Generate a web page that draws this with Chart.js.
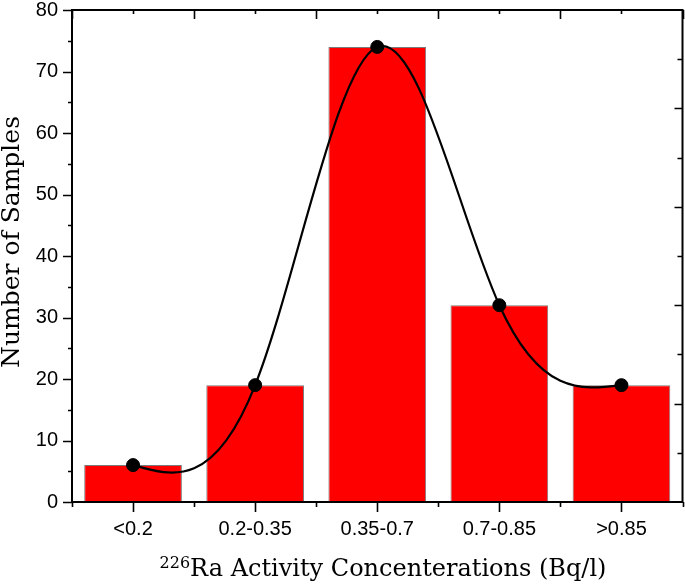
<!DOCTYPE html>
<html>
<head>
<meta charset="utf-8">
<script src="https://cdn.jsdelivr.net/npm/chart.js@4/dist/chart.umd.min.js"></script>
<style>
  html, body { margin: 0; padding: 0; background: #fff; overflow: hidden; }
  #wrap { width: 690px; height: 588px; position: relative; }
</style>
</head>
<body>
<div id="wrap"><canvas id="grafico"></canvas></div>
<script>
// datos
const categorias = ['<0.2', '0.2-0.35', '0.35-0.7', '0.7-0.85', '>0.85'];
const muestras = [6, 19, 74, 32, 19];
const yMin = 0;
const yMax = 80;
const yPaso = 10;

const fuenteSerif = '"DejaVu Serif", "Liberation Serif", serif';
const fuenteSans = '"Liberation Sans", Arial, sans-serif';

// curva spline natural que pasa por los puntos de la serie (como en Origin)
const splinePlugin = {
  id: 'spline',
  beforeDatasetDraw(chart, args) {
    if (args.index !== 0) return;
    const pts = chart.getDatasetMeta(0).data.map(p => ({ x: p.x, y: p.y }));
    const n = pts.length;
    const h = pts[1].x - pts[0].x;
    // segundas derivadas (M0 = Mn = 0), sistema tridiagonal
    const M = new Array(n).fill(0);
    const a = [], b = [], c = [], d = [];
    for (let i = 1; i < n - 1; i++) {
      a.push(1); b.push(4); c.push(1);
      d.push(6 / (h * h) * (pts[i + 1].y - 2 * pts[i].y + pts[i - 1].y));
    }
    const m = d.length;
    for (let i = 1; i < m; i++) {
      const w = a[i] / b[i - 1];
      b[i] -= w * c[i - 1];
      d[i] -= w * d[i - 1];
    }
    const sol = new Array(m);
    sol[m - 1] = d[m - 1] / b[m - 1];
    for (let i = m - 2; i >= 0; i--) sol[i] = (d[i] - c[i] * sol[i + 1]) / b[i];
    for (let i = 0; i < m; i++) M[i + 1] = sol[i];

    const ctx = chart.ctx;
    ctx.save();
    ctx.strokeStyle = '#000';
    ctx.lineWidth = 2.2;
    ctx.lineJoin = 'round';
    ctx.beginPath();
    ctx.moveTo(pts[0].x, pts[0].y);
    for (let i = 0; i < n - 1; i++) {
      const p0 = pts[i], p1 = pts[i + 1];
      const dy = (p1.y - p0.y) / h;
      const d0 = dy - h * (2 * M[i] + M[i + 1]) / 6;
      const d1 = dy + h * (M[i] + 2 * M[i + 1]) / 6;
      ctx.bezierCurveTo(p0.x + h / 3, p0.y + d0 * h / 3,
                        p1.x - h / 3, p1.y - d1 * h / 3,
                        p1.x, p1.y);
    }
    ctx.stroke();
    ctx.restore();
  }
};

// marco, marcas de ejes y titulos
const marcoPlugin = {
  id: 'marco',
  afterDraw(chart) {
    const ctx = chart.ctx;
    const a = chart.chartArea;
    const x = chart.scales.x;
    const y = chart.scales.y;
    ctx.save();
    ctx.strokeStyle = '#000';
    ctx.lineWidth = 2;
    ctx.strokeRect(a.left, a.top, a.right - a.left, a.bottom - a.top);

    ctx.lineWidth = 1.6;
    ctx.beginPath();
    // eje izquierdo: marcas hacia fuera
    for (let v = yMin; v <= yMax; v += yPaso / 2) {
      const py = Math.round(y.getPixelForValue(v)) + 0.5;
      const largo = (v % yPaso === 0) ? 9 : 4;
      ctx.moveTo(a.left, py); ctx.lineTo(a.left - largo, py);
    }
    // eje derecho: marcas hacia dentro
    for (let v = 8; v < yMax; v += 8) {
      const py = Math.round(y.getPixelForValue(v)) + 0.5;
      const largo = (v % 16 === 0) ? 8 : 5;
      ctx.moveTo(a.right, py); ctx.lineTo(a.right - largo, py);
    }
    // ejes x
    const n = categorias.length;
    const ancho = (a.right - a.left) / n;
    for (let i = 0; i <= n; i++) {
      const px = Math.round(a.left + i * ancho) + 0.5;
      ctx.moveTo(px, a.bottom); ctx.lineTo(px, a.bottom + 5);
      ctx.moveTo(px, a.top); ctx.lineTo(px, a.top + 9);
    }
    for (let i = 0; i < n; i++) {
      const px = Math.round(x.getPixelForValue(i)) + 0.5;
      ctx.moveTo(px, a.bottom); ctx.lineTo(px, a.bottom + 10);
      ctx.moveTo(px, a.top); ctx.lineTo(px, a.top + 4);
    }
    ctx.stroke();

    // titulo eje x: 226Ra ...
    const sup = '226';
    const resto = 'Ra Activity Concenterations (Bq/l)';
    ctx.fillStyle = '#000';
    ctx.textBaseline = 'alphabetic';
    ctx.textAlign = 'left';
    ctx.font = '16px ' + fuenteSerif;
    const wSup = ctx.measureText(sup).width;
    ctx.font = '24px ' + fuenteSerif;
    const wResto = ctx.measureText(resto).width;
    const x0 = 383 - (wSup + wResto) / 2;
    const base = 576;
    ctx.font = '16px ' + fuenteSerif;
    ctx.fillText(sup, x0, base - 8);
    ctx.font = '24px ' + fuenteSerif;
    ctx.fillText(resto, x0 + wSup, base);

    // titulo eje y
    ctx.translate(19, 242);
    ctx.rotate(-Math.PI / 2);
    ctx.textAlign = 'center';
    ctx.font = '25px ' + fuenteSerif;
    ctx.fillText('Number of Samples', 0, 0);
    ctx.restore();
  }
};

const ctx = document.getElementById('grafico').getContext('2d');
const grafico = new Chart(ctx, {
  data: {
    labels: categorias,
    datasets: [
      {
        type: 'line',
        data: muestras,
        showLine: false,
        borderColor: '#000',
        backgroundColor: '#000',
        pointRadius: 6.5,
        pointHoverRadius: 6.5,
        order: 0
      },
      {
        type: 'bar',
        data: muestras,
        backgroundColor: '#ff0000',
        borderColor: '#7a7a7a',
        borderWidth: 1,
        barPercentage: 0.8,
        categoryPercentage: 1,
        order: 1
      }
    ]
  },
  options: {
    responsive: true,
    maintainAspectRatio: false,
    animation: false,
    layout: { padding: { top: 10, right: 2, left: 0, bottom: 0 } },
    plugins: {
      legend: { display: false },
      tooltip: { enabled: false }
    },
    scales: {
      x: {
        offset: true,
        grid: { display: false, drawTicks: false },
        border: { display: false },
        ticks: {
          color: '#000',
          font: { family: fuenteSans, size: 20 },
          padding: 15,
          maxRotation: 0
        },
        afterFit(scale) {
          scale.height = 86;
          scale.paddingLeft = 0;
          scale.paddingRight = 0;
        }
      },
      y: {
        min: yMin,
        max: yMax,
        grid: {
          display: true,
          drawOnChartArea: false,
          drawTicks: true,
          tickLength: 7,
          color: 'rgba(0,0,0,0)'
        },
        border: { display: false },
        ticks: {
          stepSize: yPaso,
          color: '#000',
          font: { family: fuenteSans, size: 20, lineHeight: 0.2 },
          padding: 7
        },
        afterFit(scale) { scale.width = 72; }
      }
    }
  },
  plugins: [splinePlugin, marcoPlugin]
});
</script>
</body>
</html>
